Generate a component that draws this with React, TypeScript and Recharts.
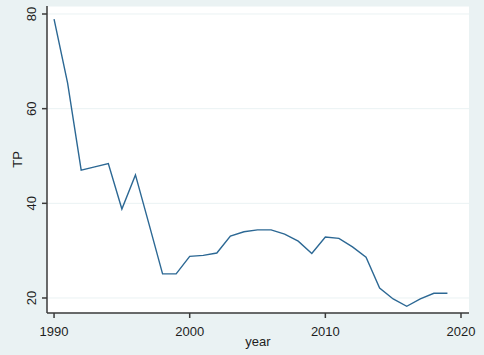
import React from "react";
import { LineChart, Line, XAxis, YAxis, CartesianGrid, Label } from "recharts";

const years = [1990, 1991, 1992, 1993, 1994, 1995, 1996, 1997, 1998, 1999, 2000, 2001, 2002, 2003, 2004, 2005, 2006, 2007, 2008, 2009, 2010, 2011, 2012, 2013, 2014, 2015, 2016, 2017, 2018, 2019];
const tp = [78.9, 65.4, 47.0, 47.7, 48.4, 38.8, 46.0, 35.6, 25.1, 25.1, 28.8, 29.0, 29.5, 33.1, 34.0, 34.4, 34.4, 33.5, 32.0, 29.4, 32.9, 32.6, 30.8, 28.6, 22.1, 19.8, 18.25, 19.8, 21.0, 21.0];
const xTicks = [1990, 2000, 2010, 2020];
const yTicks = [20, 40, 60, 80];

const data = years.map((y, i) => ({ year: y, TP: tp[i] }));

const FONT = "'Liberation Sans', Arial, sans-serif";
const AXIS = "#3a3a3a";
const TEXT = "#1e1e1e";

const XTick = (props: any) => {
  const { x, y, payload } = props;
  return (
    <text x={x} y={y + 18} textAnchor="middle" fontSize={13} fontFamily={FONT} fill={TEXT}>
      {payload.value}
    </text>
  );
};

const YTick = (props: any) => {
  const { x, y, payload } = props;
  const tx = x - 6;
  return (
    <text x={tx} y={y} textAnchor="middle" fontSize={13} fontFamily={FONT} fill={TEXT} transform={`rotate(-90, ${tx}, ${y})`}>
      {payload.value}
    </text>
  );
};

export default function App() {
  return (
    <div style={{ position: "fixed", left: 0, top: 0, width: 484, height: 355, background: "#eaf2f3" }}>
      <LineChart width={484} height={355} data={data} margin={{ top: 6, right: 15, bottom: 0, left: 0 }}>
        <CartesianGrid vertical={false} horizontal={true} stroke="#eaf2f3" strokeWidth={1} fill="#ffffff" />
        <XAxis
          dataKey="year"
          type="number"
          domain={[1989.48, 2020.59]}
          ticks={xTicks}
          allowDataOverflow
          height={42}
          tickSize={5}
          tickMargin={0}
          axisLine={{ stroke: AXIS, strokeWidth: 1.5 }}
          tickLine={{ stroke: AXIS, strokeWidth: 1.5 }}
          tick={<XTick />}
          interval={0}
        >
          <Label
            content={(p: any) => {
              const vb = p.viewBox;
              return (
                <text x={vb.x + vb.width / 2} y={346} textAnchor="middle" fontSize={13} fontFamily={FONT} fill={TEXT}>
                  year
                </text>
              );
            }}
          />
        </XAxis>
        <YAxis
          type="number"
          domain={[16.83, 81.69]}
          ticks={yTicks}
          allowDataOverflow
          width={47}
          tickSize={5}
          tickMargin={0}
          axisLine={{ stroke: AXIS, strokeWidth: 1.5 }}
          tickLine={{ stroke: AXIS, strokeWidth: 1.5 }}
          tick={<YTick />}
          interval={0}
        >
          <Label
            content={(p: any) => {
              const vb = p.viewBox;
              const cy = vb.y + vb.height / 2;
              return (
                <text x={22} y={cy} textAnchor="middle" fontSize={13} fontFamily={FONT} fill={TEXT} transform={`rotate(-90, 22, ${cy})`}>
                  TP
                </text>
              );
            }}
          />
        </YAxis>
        <Line type="linear" dataKey="TP" stroke="#2c6894" strokeWidth={1.4} dot={false} isAnimationActive={false} />
      </LineChart>
    </div>
  );
}
